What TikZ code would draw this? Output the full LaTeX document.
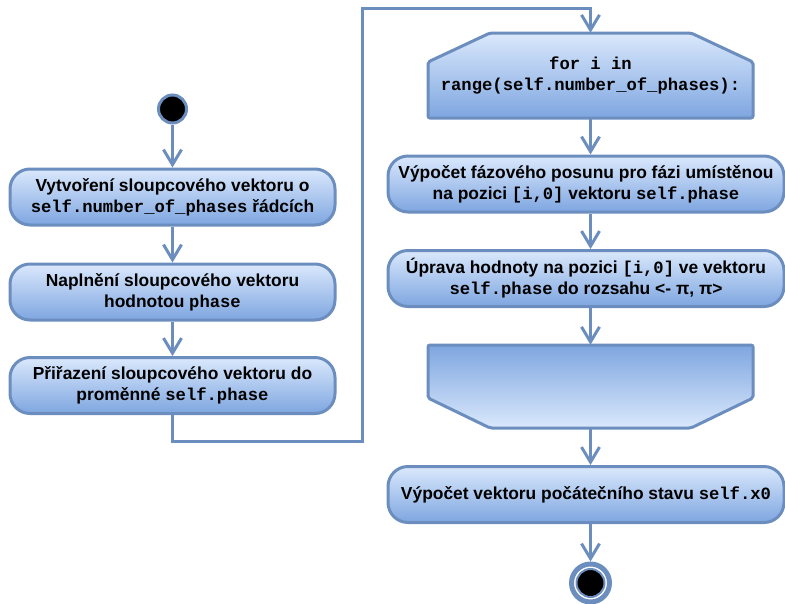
\documentclass[tikz,border=0pt]{standalone}
\usepackage{fontspec}
\setmainfont{Liberation Sans}
\setmonofont{Liberation Mono}
\usetikzlibrary{arrows.meta}
\definecolor{bstroke}{HTML}{6C8EBF}
\definecolor{bfill}{HTML}{DAE8FC}
\definecolor{bgrad}{HTML}{7EA6E0}
\newcommand{\cd}[1]{{\ttfamily\bfseries\fontsize{17.2}{21}\selectfont #1}}
\tikzset{
  act/.style={draw=bstroke, line width=3pt, rounded corners=20pt,
    top color=bfill, bottom color=bgrad, minimum height=56pt,
    align=center, inner sep=0pt,
    font=\bfseries\fontsize{17.4}{21}\selectfont},
  loopbox/.style={draw=bstroke, line width=3pt, rounded corners=2pt},
  looptext/.style={draw=none, align=center, inner sep=0pt,
    minimum width=325pt, font=\bfseries\fontsize{17.4}{21}\selectfont},
  conn/.style={draw=bstroke, line width=3pt,
    -{Straight Barb[length=15pt,width=18pt,line width=3pt]}},
}
\begin{document}
\begin{tikzpicture}[x=1pt,y=-1pt]
\useasboundingbox (0,0) rectangle (785,603);
% start
\node[circle, fill=black, draw=bstroke, line width=3pt, minimum size=28pt, inner sep=0pt] (start) at (172.5,109) {};
% left column
\node[act, minimum width=325pt] (b1) at (172.5,197) {Vytvoření sloupcového vektoru o\\\cd{self.number\_of\_phases} řádcích};
\node[act, minimum width=325pt] (b2) at (172.5,292) {Naplnění sloupcového vektoru\\hodnotou \cd{phase}};
\node[act, minimum width=325pt] (b3) at (172.5,385.5) {Přiřazení sloupcového vektoru do\\proměnné \cd{self.phase}};
% loop start
\path[loopbox, top color=bfill, bottom color=bgrad] (428,118) -- (428,62) -- (490,33) -- (691,33) -- (753,62) -- (753,118) -- cycle;
\node[looptext, minimum height=85pt] (loopA) at (590.5,75.5) {\cd{for i in}\\\cd{range(self.number\_of\_phases):}};
% right column
\node[act, minimum width=396pt] (b4) at (586,184) {Výpočet fázového posunu pro fázi umístěnou\\na pozici \cd{[i,0]} vektoru \cd{self.phase}};
\node[act, minimum width=396pt] (b5) at (586,278.5) {Úprava hodnoty na pozici \cd{[i,0]} ve vektoru\\\cd{self.phase} do rozsahu <- π, π>};
% loop end
\path[loopbox, top color=bgrad, bottom color=bfill] (428,345) -- (753,345) -- (753,398) -- (691,428) -- (490,428) -- (428,398) -- cycle;
\node[looptext, minimum height=83pt] (loopB) at (590.5,386.5) {};
\node[act, minimum width=396pt] (b6) at (586,494.5) {Výpočet vektoru počátečního stavu \cd{self.x0}};
% end
\node[circle, fill=white, draw=bstroke, line width=5pt, minimum size=38pt, inner sep=0pt] (stop) at (590.5,583) {};
\node[circle, fill=black, draw=bstroke, line width=2pt, minimum size=28pt, inner sep=0pt] (stopin) at (590.5,583) {};
% connectors
\draw[conn] (start) -- (b1.north);
\draw[conn] (b1.south) -- (b2.north);
\draw[conn] (b2.south) -- (b3.north);
\coordinate (c1) at (362,441);
\coordinate (c2) at (362,8);
\draw[conn] (b3.south) |- (c1) -- (c2) -| (loopA.north);
\draw[conn] (loopA.south) -- (loopA.south |- b4.north);
\draw[conn] (b4.south -| loopA.south) -- (loopA.south |- b5.north);
\draw[conn] (b5.south -| loopA.south) -- (loopB.north);
\draw[conn] (loopB.south) -- (loopB.south |- b6.north);
\draw[conn] (b6.south -| stop.north) -- (stop.north);
\end{tikzpicture}
\end{document}
